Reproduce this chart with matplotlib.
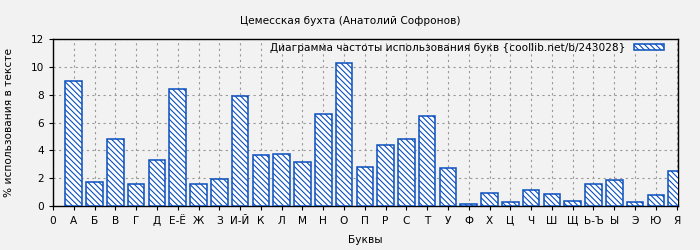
import matplotlib
matplotlib.use("Agg")
import matplotlib.pyplot as plt
import numpy as np

# letter frequency data
letters = ["А", "Б", "В", "Г", "Д", "Е-Ё", "Ж", "З", "И-Й", "К", "Л", "М", "Н", "О", "П",
           "Р", "С", "Т", "У", "Ф", "Х", "Ц", "Ч", "Ш", "Щ", "Ь-Ъ", "Ы", "Э", "Ю", "Я"]
percent = [9.02, 1.75, 4.80, 1.61, 3.29, 8.40, 1.56, 1.92, 7.90, 3.65, 3.72, 3.14, 6.60, 10.27, 2.78,
           4.37, 4.80, 6.46, 2.71, 0.14, 0.91, 0.26, 1.13, 0.84, 0.34, 1.56, 1.85, 0.26, 0.79, 2.50]
tick_labels = ["0"] + letters

plt.rcParams["font.family"] = ["DejaVu Sans"]
plt.rcParams["hatch.linewidth"] = 0.8

bg = "#f2f2f2"
blue = "#0a4fbf"
fs = 7.6

fig = plt.figure(figsize=(7, 2.5), dpi=100, facecolor=bg)
ax = fig.add_axes([53 / 700, 1 - 206 / 250, (678.3 - 53) / 700, (206 - 39.3) / 250])
ax.set_facecolor(bg)

x = np.arange(1, len(letters) + 1)
ax.bar(x, percent, width=0.8, color="white", edgecolor=blue, hatch="\\\\\\\\\\\\",
       linewidth=1.1, zorder=3,
       label="Диаграмма частоты использования букв {coollib.net/b/243028}")

ax.set_xlim(0, 30.08)
ax.set_ylim(0, 12)
ax.set_xticks(np.arange(0, len(letters) + 1))
ax.set_xticklabels(tick_labels, fontsize=fs)
ax.set_yticks(np.arange(0, 13, 2))
ax.tick_params(axis="y", labelsize=fs, length=3, direction="out")
ax.tick_params(axis="x", length=3, direction="out", pad=4)
ax.grid(True, color="#999999", linestyle=(0, (2, 3)), linewidth=0.8, zorder=0)

for s in ax.spines.values():
    s.set_color("black")
    s.set_linewidth(1)

ax.set_xlabel("Буквы", fontsize=fs, labelpad=7)
ax.set_ylabel("% использования в тексте", fontsize=fs, labelpad=12)
fig.suptitle("Цемесская бухта (Анатолий Софронов)", fontsize=fs, y=0.935)

ax.legend(loc="upper right", frameon=False, fontsize=fs, markerfirst=False,
          handlelength=2.8, handleheight=0.55, borderaxespad=0.15, borderpad=0.2,
          handletextpad=0.9, bbox_to_anchor=(0.983, 1.0))

fig.savefig("out.png", dpi=100, facecolor=bg)
